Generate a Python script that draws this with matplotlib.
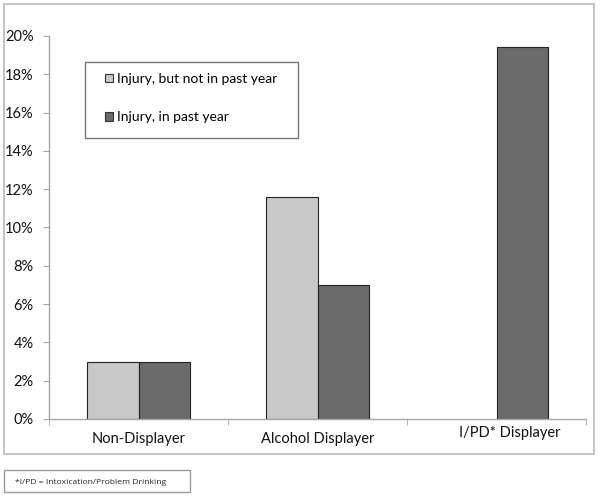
import numpy as np
import matplotlib
matplotlib.use("Agg")
import matplotlib.pyplot as plt
from matplotlib.patches import Rectangle, Patch
from matplotlib.ticker import FixedLocator, FuncFormatter
from matplotlib.transforms import ScaledTranslation

plt.rcParams['font.family'] = ['Lato', 'DejaVu Sans']

categories = ["Non-Displayer", "Alcohol Displayer", "I/PD* Displayer"]
injury_not_past_year = [3.0, 11.6, np.nan]   # no light bar for I/PD
injury_past_year = [3.0, 7.0, 19.4]
series_labels = ["Injury, but not in past year", "Injury, in past year"]
footnote = "*I/PD = Intoxication/Problem Drinking"

LIGHT = "#c8c8c8"
DARK = "#6b6b6b"
AXIS_GREY = "#a6a6a6"
W, H = 600, 499

fig = plt.figure(figsize=(W / 100, H / 100), dpi=100)
ax = fig.add_axes([49 / W, 1 - 419 / H, 537 / W, 383 / H])

x = np.arange(len(categories))
bw = 0.285
ax.bar(x - bw / 2, injury_not_past_year, bw, color=LIGHT, edgecolor="#222222", linewidth=0.8)
ax.bar(x + bw / 2, injury_past_year, bw, color=DARK, edgecolor="#222222", linewidth=0.8)

ax.set_xlim(-0.5, 2.5)
ax.set_ylim(0, 20)
ax.set_yticks(np.arange(0, 21, 2))
ax.yaxis.set_major_formatter(FuncFormatter(lambda v, p: f"{int(v)}%"))

ax.set_xticks(x)
ax.set_xticklabels(categories)
ax.xaxis.set_minor_locator(FixedLocator([-0.5, 0.5, 1.5, 2.5]))
ax.tick_params(axis="x", which="major", length=0, pad=9, labelsize=10.5, labelcolor="#111111")
ax.tick_params(axis="x", which="minor", length=4, color=AXIS_GREY, direction="out")
ax.tick_params(axis="y", length=4, color=AXIS_GREY, pad=7, labelsize=10.5, labelcolor="#111111")

# Excel placed the last category label a bit higher and to the right
lbl = ax.get_xticklabels()[2]
lbl.set_transform(lbl.get_transform() + ScaledTranslation(13 / 100, 6 / 100, fig.dpi_scale_trans))

for s in ["top", "right"]:
    ax.spines[s].set_visible(False)
for s in ["left", "bottom"]:
    ax.spines[s].set_color(AXIS_GREY)
    ax.spines[s].set_linewidth(1.0)

# outer chart frame
fig.patches.append(Rectangle((4 / W, 1 - 454 / H), 590 / W, 450 / H, transform=fig.transFigure,
                             fill=False, edgecolor="#c4c4c4", linewidth=1.5))

# legend box
fig.patches.append(Rectangle((85 / W, 1 - 138 / H), 213 / W, 76 / H, transform=fig.transFigure,
                             facecolor="white", edgecolor="#777777", linewidth=1.0, zorder=5))
handles = [Patch(facecolor=LIGHT, edgecolor="#333333", linewidth=0.8),
           Patch(facecolor=DARK, edgecolor="#333333", linewidth=0.8)]
leg = fig.legend(handles, series_labels, loc="upper left", bbox_to_anchor=(98 / W, 1 - 66 / H),
                 frameon=False, fontsize=10, handlelength=0.6, handleheight=0.6,
                 handletextpad=0.3, labelspacing=1.9, borderaxespad=0, borderpad=0.5)
leg.set_zorder(6)

# footnote box
fig.patches.append(Rectangle((4 / W, 1 - 492 / H), 186 / W, 22 / H, transform=fig.transFigure,
                             fill=False, edgecolor="#999999", linewidth=1.0))
fig.text(15 / W, 1 - 482 / H, footnote, fontsize=6.1, va="center", ha="left", color="#222222",
         family=["Open Sans", "DejaVu Sans"])

fig.savefig("out.png", dpi=100)
